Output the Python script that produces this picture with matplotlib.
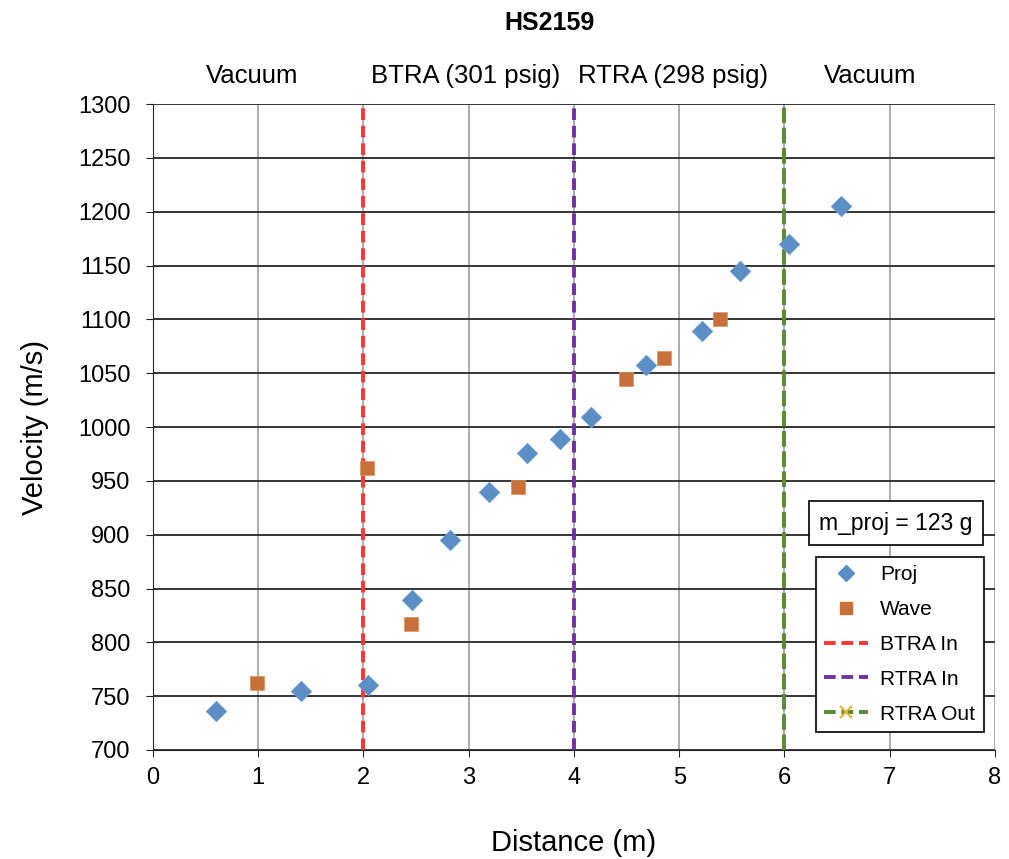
import numpy as np
import matplotlib.pyplot as plt
from matplotlib.lines import Line2D

plt.rcParams['font.family'] = ['Liberation Sans', 'DejaVu Sans']

# projectile velocity readings
proj_x = [0.60, 1.41, 2.04, 2.46, 2.82, 3.19, 3.55, 3.87, 4.16, 4.68, 5.22, 5.58, 6.04, 6.54]
proj_v = [736, 755, 760, 839, 895, 940, 976, 989, 1009, 1058, 1089, 1145, 1170, 1205]

# wave velocity readings
wave_x = [0.99, 2.03, 2.45, 3.47, 4.49, 4.86, 5.39]
wave_v = [762, 962, 817, 944, 1045, 1064, 1100]

# section boundaries
bounds = [2, 4, 6]
bound_names = ['BTRA In', 'RTRA In', 'RTRA Out']
bound_colors = ['#ff3333', '#7030a0', '#5b8a32']

regions = ['Vacuum', 'BTRA (301 psig)', 'RTRA (298 psig)', 'Vacuum']
region_x = [0.945, 2.97, 4.94, 6.81]

fig = plt.figure(figsize=(10.09, 8.59), dpi=100)
ax = fig.add_axes([0.1516, 0.1269, 0.8345, 0.752])

ax.set_xlim(0, 8)
ax.set_ylim(700, 1300)
ax.set_xticks(np.arange(0, 9, 1))
ax.set_yticks(np.arange(700, 1301, 50))
ax.grid(axis='x', color='#a6a6a6', lw=1.3)
ax.grid(axis='y', color='#262626', lw=1.3)
ax.set_axisbelow(True)
for s in ['top', 'right']:
    ax.spines[s].set_visible(False)
ax.spines['left'].set_color('#262626')
ax.spines['bottom'].set_color('#262626')
ax.tick_params(labelsize=17, length=5, color='#262626', direction='out')
ax.tick_params(axis='x', pad=7)
ax.tick_params(axis='y', pad=11)

for i in range(3):
    ls = (0, (3, 1.5)) if i < 2 else (0, (4, 1.2))
    ax.axvline(bounds[i], color=bound_colors[i], lw=2.8, ls=ls, zorder=2)

ax.scatter(proj_x, proj_v, marker='D', s=110, color='#5b8ec4', edgecolor='#6f9fd0',
           lw=0.5, zorder=3, label='Proj')
ax.scatter(wave_x, wave_v, marker='s', s=95, color='#c8703a', edgecolor='#e09060',
           lw=0.5, zorder=3, label='Wave')

handles = [
    Line2D([], [], marker='D', ls='none', color='#5b8ec4', ms=8),
    Line2D([], [], marker='s', ls='none', color='#c8703a', ms=8),
    Line2D([], [], color=bound_colors[0], lw=2.8, ls=(0, (3, 1.5))),
    Line2D([], [], color=bound_colors[1], lw=2.8, ls=(0, (3, 1.5))),
    Line2D([], [], color=bound_colors[2], lw=2.8, ls=(0, (3, 1.5)),
           marker='x', mec='#e0b830', ms=9, mew=1.5),
]
leg = ax.legend(handles, ['Proj', 'Wave'] + bound_names, loc='upper left',
                bbox_to_anchor=(0.787, 0.299), borderaxespad=0, fontsize=15,
                frameon=True, fancybox=False, edgecolor='black', framealpha=1,
                handlelength=2.1, borderpad=0.4, labelspacing=0.76, handletextpad=0.6)
leg.get_frame().set_linewidth(1.2)

ax.text(0.882, 0.351, 'm_proj = 123 g', transform=ax.transAxes, fontsize=16.5,
        ha='center', va='center',
        bbox=dict(boxstyle='square,pad=0.45', fc='white', ec='black', lw=1.2))

for name, rx in zip(regions, region_x):
    ax.text(rx, 1319.5, name, fontsize=18.5, ha='center', va='baseline')

ax.set_xlabel('Distance (m)', fontsize=21, labelpad=29)
ax.set_ylabel('Velocity (m/s)', fontsize=21, labelpad=21)
fig.text(0.545, 0.987, 'HS2159', fontsize=18, fontweight='bold', ha='center', va='top')

fig.savefig('out.png', dpi=100)
